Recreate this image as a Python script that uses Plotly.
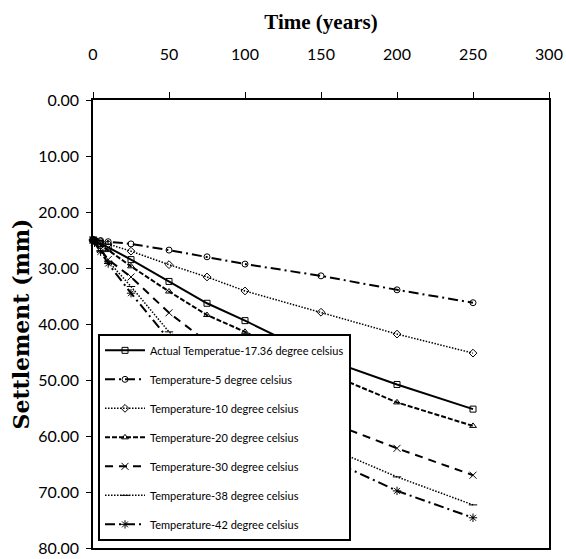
import plotly.graph_objects as go

times = [0, 1, 5, 10, 25, 50, 75, 100, 150, 200, 250]
actual_17 = [25.0, 25.2, 25.7, 26.3, 28.5, 32.4, 36.3, 39.4, 46.0, 50.8, 55.2]
temp_5 = [25.0, 25.0, 25.1, 25.3, 25.7, 26.8, 28.0, 29.3, 31.4, 33.9, 36.2]
temp_10 = [25.0, 25.1, 25.3, 25.7, 27.0, 29.4, 31.6, 34.1, 37.9, 41.8, 45.2]
temp_20 = [25.0, 25.2, 25.9, 26.8, 29.7, 34.2, 38.4, 41.4, 48.3, 54.0, 58.2]
temp_30 = [25.0, 25.4, 26.7, 28.5, 31.6, 38.0, 43.2, 48.2, 57.0, 62.2, 67.0]
temp_38 = [25.0, 25.4, 26.9, 28.8, 33.3, 41.4, 47.0, 52.3, 61.5, 67.3, 72.3]
temp_42 = [25.0, 25.5, 27.1, 29.2, 34.5, 42.8, 48.5, 54.0, 63.5, 69.8, 74.6]

names = [
    "Actual Temperatue-17.36 degree celsius",
    "Temperature-5 degree celsius",
    "Temperature-10 degree celsius",
    "Temperature-20 degree celsius",
    "Temperature-30 degree celsius",
    "Temperature-38 degree celsius",
    "Temperature-42 degree celsius",
]
series = [actual_17, temp_5, temp_10, temp_20, temp_30, temp_38, temp_42]
styles = [
    dict(dash="solid", width=2, symbol="square-open", msize=6),
    dict(dash="10px,4px,2px,4px", width=2, symbol="circle-open", msize=6),
    dict(dash="1.5px,1.5px", width=1.5, symbol="diamond-open", msize=6),
    dict(dash="5px,2px", width=2, symbol="triangle-up-open", msize=6),
    dict(dash="8px,6px", width=2, symbol="x-thin-open", msize=7),
    dict(dash="1.5px,1.5px", width=1.5, symbol="line-ew-open", msize=6),
    dict(dash="10px,4px,2px,4px", width=2, symbol="asterisk-open", msize=7),
]

fig = go.Figure()
for i, (nm, ys, st) in enumerate(zip(names, series, styles)):
    fig.add_trace(go.Scatter(
        x=times, y=ys, name=nm, mode="lines+markers",
        line=dict(color="black", width=st["width"], dash=st["dash"]),
        marker=dict(symbol=st["symbol"], size=st["msize"], color="black",
                    line=dict(color="black", width=1)),
        cliponaxis=False, legendgroup=str(i),
    ))

tickfont = dict(family="Lato, sans-serif", size=16, color="black")

fig.update_layout(
    width=566, height=559,
    margin=dict(l=93, r=17, t=100, b=11),
    paper_bgcolor="white", plot_bgcolor="white",
    showlegend=True,
    legend=dict(
        x=0.011, y=0.478, xanchor="left", yanchor="top",
        bgcolor="white", bordercolor="black", borderwidth=2,
        font=dict(family="Lato, sans-serif", size=11, color="black"),
        traceorder="grouped", tracegroupgap=10, itemwidth=40,
    ),
    xaxis=dict(
        range=[0, 300], side="top", dtick=50, tick0=0,
        showgrid=False, zeroline=False, automargin=False,
        showline=True, linecolor="black", linewidth=1.5, mirror=True,
        ticks="outside", ticklen=6, tickcolor="black",
        ticklabelstandoff=26,
        tickfont=tickfont,
        title=dict(text="<b>Time (years)</b>",
                   font=dict(family="Liberation Serif, serif", size=21, color="black"),
                   standoff=8),
    ),
    yaxis=dict(
        range=[80, 0], dtick=10, tick0=0, tickformat=".2f",
        showgrid=False, zeroline=False, automargin=False,
        showline=True, linecolor="black", linewidth=1.5, mirror=True,
        ticks="outside", ticklen=5, tickcolor="black",
        ticklabelstandoff=4,
        tickfont=tickfont,
        title=dict(text="<b>Settlement (mm)</b>",
                   font=dict(family="DejaVu Serif, serif", size=22, color="black"),
                   standoff=2),
    ),
)

fig.write_html("out.html", config={"displayModeBar": False},
               post_script="document.body.style.margin='0';document.body.style.padding='0';")
